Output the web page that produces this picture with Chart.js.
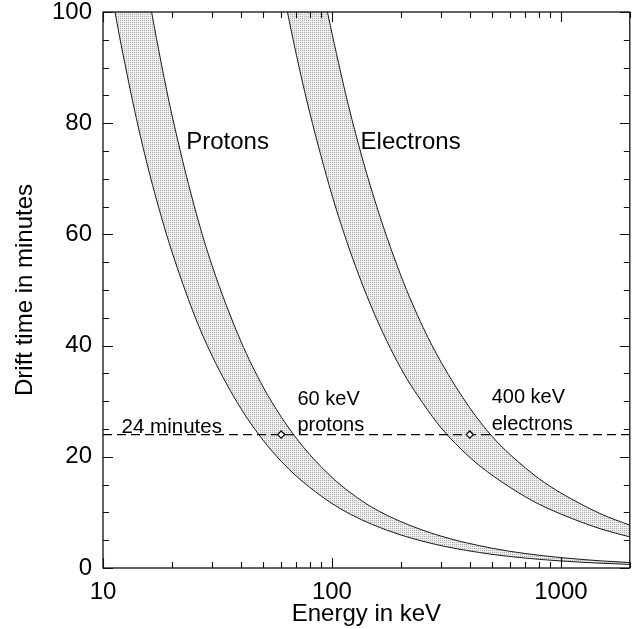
<!DOCTYPE html>
<html>
<head>
<meta charset="utf-8">
<title>Drift time versus energy</title>
<script src="https://cdn.jsdelivr.net/npm/chart.js@4.4.1/dist/chart.umd.min.js"></script>
<style>
    html, body { margin: 0; padding: 0; background: #fff; }
    #wrap { width: 635px; height: 629px; }
</style>
</head>
<body>
<div id="wrap"><canvas id="driftChart"></canvas></div>
<script>
// Energy in keV, drift time in minutes
const protonLowE  = [11.28, 12, 14, 16, 18, 20, 25, 30, 40, 50, 60, 70, 80, 100, 120, 150, 200, 300, 500, 700, 1000, 1500, 2000];
const protonLowT  = [100, 94.1, 80.8, 70.8, 63.1, 56.9, 45.6, 38.1, 28.7, 23.0, 19.2, 16.5, 14.5, 11.6, 9.7, 7.83, 5.94, 4.02, 2.46, 1.78, 1.27, 0.86, 0.65];
const protonHighE = [16.3, 18, 20, 25, 30, 40, 50, 60, 70, 80, 100, 120, 150, 200, 300, 500, 700, 1000, 1500, 2000];
const protonHighT = [100, 90.6, 81.5, 65.2, 54.3, 40.8, 32.6, 27.2, 23.3, 20.4, 16.3, 13.6, 10.9, 8.34, 5.72, 3.56, 2.60, 1.87, 1.28, 0.98];

const electronLowE  = [63.9, 70, 80, 100, 120, 150, 200, 250, 300, 400, 500, 600, 700, 800, 1000, 1500, 2000];
const electronLowT  = [100, 92.2, 81.9, 67.1, 57.0, 46.6, 35.9, 29.6, 25.2, 19.9, 16.7, 14.5, 12.8, 11.5, 9.7, 7.0, 5.6];
const electronHighE = [95.6, 100, 120, 150, 200, 250, 300, 400, 500, 600, 700, 800, 1000, 1500, 2000];
const electronHighT = [100, 96.2, 82.0, 67.6, 52.6, 43.3, 37.0, 28.8, 23.7, 20.4, 18.0, 16.1, 13.5, 9.7, 7.7];

// 24 minute reference line and the two marked energies
const driftLineE = [10, 2000];
const driftMinutes = 24;
const markerE = [60, 400];

const xTickValues = [10, 100, 1000];
const yTickValues = [0, 20, 40, 60, 80, 100];

const FONT = "'Liberation Sans', Arial, Helvetica, sans-serif";

function toPoints(xs, ys) {
    return xs.map((x, i) => ({ x: x, y: Array.isArray(ys) ? ys[i] : ys }));
}

// light stipple used for the bands
function makeStipple() {
    const c = document.createElement('canvas');
    c.width = 2; c.height = 2;
    const g = c.getContext('2d');
    g.fillStyle = '#eeeeee';
    g.fillRect(0, 0, 2, 2);
    g.fillStyle = '#adadad';
    g.fillRect(0, 0, 1, 1);
    return g.createPattern(c, 'repeat');
}

// fills the area between the two edges of each band
const bandFill = {
    id: 'bandFill',
    beforeDatasetsDraw(chart, args, opts) {
        const { ctx, chartArea } = chart;
        const pattern = makeStipple();
        const metaByLabel = {};
        chart.data.datasets.forEach((ds, i) => { metaByLabel[ds.label] = chart.getDatasetMeta(i); });

        ctx.save();
        ctx.beginPath();
        ctx.rect(chartArea.left, chartArea.top, chartArea.right - chartArea.left, chartArea.bottom - chartArea.top);
        ctx.clip();
        opts.bands.forEach(([lowLabel, highLabel]) => {
            const lo = metaByLabel[lowLabel].dataset;
            const hi = metaByLabel[highLabel].dataset;
            lo.updateControlPoints(chartArea, 'x');
            hi.updateControlPoints(chartArea, 'x');
            ctx.beginPath();
            lo.pathSegment(ctx, lo.segments[0], { move: true });
            hi.pathSegment(ctx, hi.segments[0], { move: false, reverse: true });
            ctx.closePath();
            ctx.fillStyle = pattern;
            ctx.fill();
        });
        ctx.restore();
    }
};

// box round the plot with inward ticks on all four sides
const frameTicks = {
    id: 'frameTicks',
    afterDatasetsDraw(chart) {
        const { ctx, chartArea: a, scales: { x, y } } = chart;
        const major = 10, minor = 6;
        ctx.save();
        ctx.strokeStyle = '#111';
        ctx.lineWidth = 1.3;
        ctx.strokeRect(a.left, a.top, a.right - a.left, a.bottom - a.top);

        ctx.lineWidth = 1.1;
        ctx.beginPath();
        for (let d = 10; d <= 1000; d *= 10) {
            for (let k = 1; k <= 9; k++) {
                const v = k * d;
                if (v > 2000) break;
                const px = Math.round(x.getPixelForValue(v)) + 0.5;
                const len = k === 1 ? major : minor;
                ctx.moveTo(px, a.bottom); ctx.lineTo(px, a.bottom - len);
                ctx.moveTo(px, a.top); ctx.lineTo(px, a.top + len);
            }
        }
        for (let v = 0; v <= 100; v += 5) {
            const py = Math.round(y.getPixelForValue(v)) + 0.5;
            const len = v % 20 === 0 ? major : minor;
            ctx.moveTo(a.left, py); ctx.lineTo(a.left + len, py);
            ctx.moveTo(a.right, py); ctx.lineTo(a.right - len, py);
        }
        ctx.stroke();
        ctx.restore();
    }
};

// text placed in data coordinates
const plotText = {
    id: 'plotText',
    afterDraw(chart, args, opts) {
        const { ctx, scales: { x, y } } = chart;
        ctx.save();
        ctx.fillStyle = '#000';
        ctx.textAlign = 'left';
        ctx.textBaseline = 'alphabetic';
        opts.items.forEach(t => {
            ctx.font = t.size + 'px ' + FONT;
            ctx.fillText(t.text, x.getPixelForValue(t.x), y.getPixelForValue(t.y));
        });
        ctx.restore();
    }
};

const edge = { borderColor: '#1a1a1a', borderWidth: 1, pointRadius: 0, fill: false, cubicInterpolationMode: 'monotone' };

new Chart(document.getElementById('driftChart'), {
    type: 'line',
    data: {
        datasets: [
            {
                label: 'markers',
                data: toPoints(markerE, driftMinutes),
                showLine: false,
                pointStyle: 'rectRot',
                pointRadius: 3.6,
                pointBackgroundColor: '#fff',
                pointBorderColor: '#000',
                pointBorderWidth: 1.2
            },
            {
                label: '24 minutes',
                data: toPoints(driftLineE, driftMinutes),
                borderColor: '#000',
                borderWidth: 1.3,
                borderDash: [9, 5],
                pointRadius: 0,
                fill: false
            },
            Object.assign({ label: 'protonLow',  data: toPoints(protonLowE, protonLowT) }, edge),
            Object.assign({ label: 'protonHigh', data: toPoints(protonHighE, protonHighT) }, edge),
            Object.assign({ label: 'electronLow',  data: toPoints(electronLowE, electronLowT) }, edge),
            Object.assign({ label: 'electronHigh', data: toPoints(electronHighE, electronHighT) }, edge)
        ]
    },
    options: {
        responsive: true,
        maintainAspectRatio: false,
        animation: false,
        layout: { padding: { top: 12, right: 3, left: 0, bottom: 0 } },
        plugins: {
            legend: { display: false },
            tooltip: { enabled: false },
            bandFill: { bands: [['protonLow', 'protonHigh'], ['electronLow', 'electronHigh']] },
            plotText: {
                items: [
                    { text: 'Protons', x: 23.1, y: 75.3, size: 24 },
                    { text: 'Electrons', x: 133.4, y: 75.3, size: 24 },
                    { text: '24 minutes', x: 12.06, y: 24.3, size: 20.5 },
                    { text: '60 keV', x: 70.7, y: 29.3, size: 20 },
                    { text: 'protons', x: 70.7, y: 24.7, size: 20 },
                    { text: '400 keV', x: 498.6, y: 29.6, size: 20 },
                    { text: 'electrons', x: 498.6, y: 24.8, size: 20 }
                ]
            }
        },
        scales: {
            x: {
                type: 'logarithmic',
                min: 10,
                max: 2000,
                grid: { display: false, drawTicks: false },
                border: { display: false },
                afterBuildTicks: s => { s.ticks = xTickValues.map(v => ({ value: v })); },
                afterFit: s => { s.height = 61; s.paddingLeft = 0; s.paddingRight = 0; },
                ticks: {
                    autoSkip: false,
                    maxRotation: 0,
                    padding: 10,
                    color: '#000',
                    font: { family: FONT, size: 24 },
                    callback: v => String(v)
                },
                title: {
                    display: true,
                    text: 'Energy in keV',
                    color: '#000',
                    font: { family: FONT, size: 24 },
                    padding: { top: 0, bottom: 0 }
                }
            },
            y: {
                min: 0,
                max: 100,
                grid: { display: false, drawTicks: false },
                border: { display: false },
                afterBuildTicks: s => { s.ticks = yTickValues.map(v => ({ value: v })); },
                afterFit: s => { s.width = 103; s.paddingTop = 0; s.paddingBottom = 0; },
                ticks: {
                    padding: 11,
                    color: '#000',
                    font: { family: FONT, size: 24 },
                    callback: v => String(v)
                },
                title: {
                    display: true,
                    text: 'Drift time in minutes',
                    color: '#000',
                    font: { family: FONT, size: 24 },
                    padding: { top: 11, bottom: 0 }
                }
            }
        }
    },
    plugins: [bandFill, frameTicks, plotText]
});
</script>
</body>
</html>
